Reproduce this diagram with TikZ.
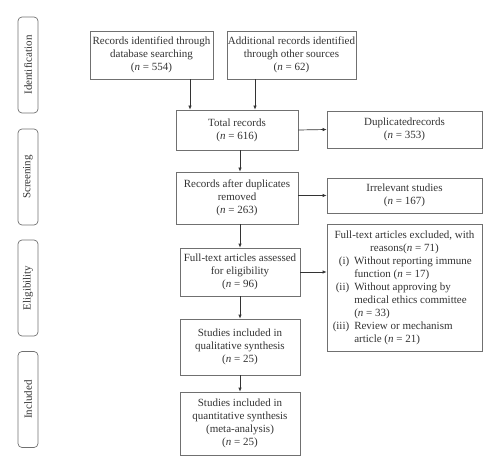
\documentclass[tikz,border=0pt]{standalone}
\usepackage{fontspec}
\setmainfont{Liberation Serif}
\usepackage{array}
\usetikzlibrary{positioning}
\usetikzlibrary{arrows.meta}
\definecolor{boxgray}{HTML}{707070}
\definecolor{inkgray}{HTML}{333333}

\begin{document}
\begin{tikzpicture}[x=1pt, y=-1pt, line width=0.7pt,
        stagebox/.style={shape=rectangle, draw=boxgray, text=inkgray, align=center, inner sep=1pt, font=\fontsize{11}{13}\selectfont},
        phasetab/.style={shape=rectangle, rounded corners=4pt, draw=boxgray, text=inkgray, rotate=90, minimum width=96pt, minimum height=20pt, inner sep=1pt, font=\fontsize{11}{13}\selectfont},
        flow/.style={draw=inkgray, -{Latex[length=4pt,width=3.5pt]}}]
        \useasboundingbox (0,0) rectangle (500,473);

        % phases
        \node (tabid) at (28,65) [phasetab] {Identification};
        \node (tabsc) at (28,177) [phasetab] {Screening};
        \node (tabel) at (28,288) [phasetab] {Eligibility};
        \node (tabin) at (28,399.5) [phasetab] {Included};

        % identification
        \node (db) at (151.5,55) [stagebox, minimum width=123pt, minimum height=48pt] {Records identified through\\database searching\\(\textit{n} = 554)};
        \node (other) at (291.5,55) [stagebox, minimum width=129pt, minimum height=48pt] {Additional records identified\\through other sources\\(\textit{n} = 62)};

        % screening
        \node (total) at (237,130) [stagebox, minimum width=122pt, minimum height=40pt] {Total records\\(\textit{n} = 616)};
        \node (dup) at (404.5,129.5) [stagebox, minimum width=155pt, minimum height=37pt] {Duplicatedrecords\\(\textit{n} = 353)};
        \node (after) at (237,198) [stagebox, minimum width=122pt, minimum height=52pt] {Records after duplicates\\removed\\(\textit{n} = 263)};
        \node (irr) at (404.5,195.5) [stagebox, minimum width=155pt, minimum height=35pt] {Irrelevant studies\\(\textit{n} = 167)};

        % eligibility
        \node (full) at (240,272) [stagebox, minimum width=120pt, minimum height=48pt] {Full-text articles assessed\\for eligibility\\(\textit{n} = 96)};
        \node (excl) at (404.5,287.5) [shape=rectangle, draw=boxgray, text=inkgray, inner sep=1pt, minimum width=155pt, minimum height=127pt, font=\fontsize{11}{13}\selectfont] {%
            \begin{tabular}{@{}r@{\hspace{5pt}}>{\raggedright\arraybackslash}p{122pt}@{}}
                \multicolumn{2}{@{}c@{}}{Full-text articles excluded, with}\\
                \multicolumn{2}{@{}c@{}}{reasons(\textit{n} = 71)}\\
                (i) & Without reporting immune function (\textit{n} = 17)\\
                (ii) & Without approving by medical ethics committee (\textit{n} = 33)\\
                (iii) & Review or mechanism article (\textit{n} = 21)\\
            \end{tabular}};

        % included
        \node (qual) at (240,347) [stagebox, minimum width=120pt, minimum height=56pt] {Studies included in\\qualitative synthesis\\(\textit{n} = 25)};
        \node (quant) at (240,423.5) [stagebox, minimum width=120pt, minimum height=63pt] {Studies included in\\quantitative synthesis\\(meta-analysis)\\(\textit{n} = 25)};

        % connections
        \draw[flow] ([xshift=-47pt]total.north |- db.south) -- ([xshift=-47pt]total.north);
        \draw[flow] ([xshift=18pt]total.north |- other.south) -- ([xshift=18pt]total.north);
        \draw[flow] (total.east) -- (dup.west);
        \draw[flow] (total.south -| full.north) -- (after.north -| full.north);
        \draw[flow] (after.east |- irr.west) -- (irr.west);
        \draw[flow] (after.south -| full.north) -- (full.north);
        \draw[flow] (full.east) -- (full.east -| excl.west);
        \draw[flow] (full.south) -- (qual.north);
        \draw[flow] (qual.south) -- (quant.north);
    \end{tikzpicture}
\end{document}
